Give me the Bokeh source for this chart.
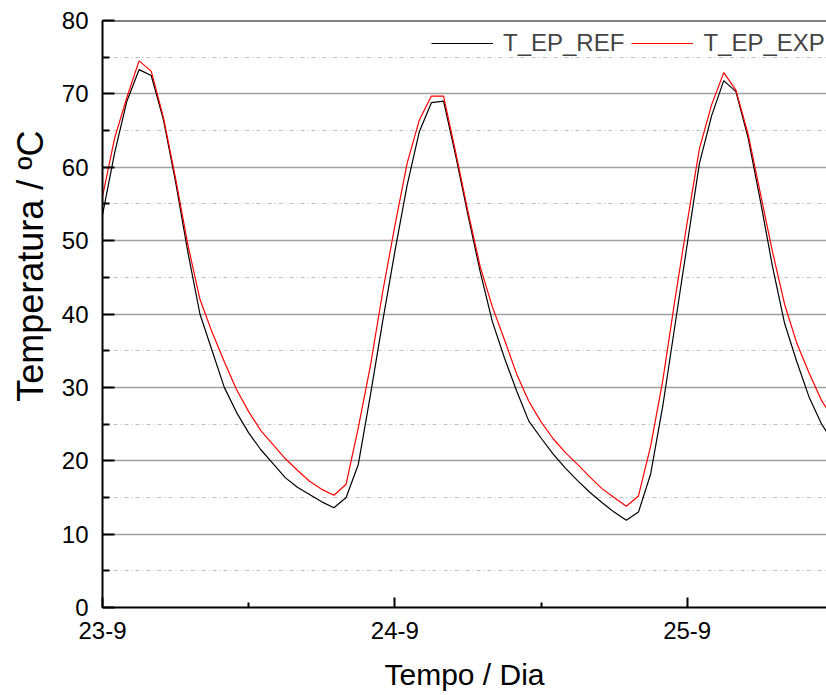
from bokeh.plotting import figure
from bokeh.models import FixedTicker, Span, Legend, LegendItem, Title
from bokeh.embed import file_html
from bokeh.resources import INLINE

# hourly samples starting 23-9 00:00
hours = list(range(61))
t_ep_ref = [53.5, 62, 69, 73.3, 72.5, 66.5, 58, 48.5, 40, 35, 30, 26.6, 23.8, 21.5, 19.6,
            17.7, 16.4, 15.4, 14.4, 13.6, 15, 19.5, 29, 39, 48.5, 57.5, 64.8, 68.8, 69,
            61.5, 53.5, 45.8, 39, 34, 29.5, 25.4, 23.1, 20.9, 19, 17.3, 15.7, 14.3, 13,
            11.9, 13, 18.2, 27.5, 38.5, 49.5, 60.5, 67, 71.8, 70.3, 64, 55.5, 46.5, 38.7,
            33.5, 28.7, 25.1, 22.5]
t_ep_exp = [56, 64, 69.5, 74.5, 73.1, 66.8, 58.5, 49.5, 42, 37.5, 33.5, 29.7, 26.7, 24.1,
            22.2, 20.3, 18.7, 17.2, 16.1, 15.3, 16.8, 24.5, 33, 43, 52, 60.5, 66.4, 69.7,
            69.7, 62, 54, 46.5, 41, 36.5, 31.8, 28.1, 25.3, 23.0, 21.1, 19.5, 17.8, 16.2,
            15, 13.8, 15.2, 22, 31, 42, 52.5, 62.5, 68.5, 72.9, 70.5, 64.5, 56.5, 48.5,
            41.3, 36, 32, 28.3, 25.7]
series_names = ["T_EP_REF", "T_EP_EXP"]
day_ticks = [0, 1, 2]
day_minor = [0.5, 1.5, 2.5]
day_labels = ["23-9", "24-9", "25-9"]
y_ticks = [0, 10, 20, 30, 40, 50, 60, 70, 80]
y_minor = [5, 15, 25, 35, 45, 55, 65, 75]
y_title = "Temperatura / ºC"
x_title = "Tempo / Dia"

days = [h / 24 for h in hours]
FONT = "Liberation Sans"

p = figure(width=826, height=695, x_range=(0, 2.4765), y_range=(0, 80),
           output_backend="svg", toolbar_location=None,
           min_border_left=102, min_border_right=0, min_border_top=20, min_border_bottom=88)
p.outline_line_color = None
p.background_fill_color = "white"
p.xgrid.visible = False
p.ygrid.grid_line_color = "#a0a0a0"
p.ygrid.grid_line_width = 1.5
p.ygrid.minor_grid_line_color = "#c0c0c0"
p.ygrid.minor_grid_line_dash = "4 3 1 3"
p.ygrid.minor_grid_line_width = 1.2

p.yaxis.ticker = FixedTicker(ticks=y_ticks, minor_ticks=y_minor)
p.xaxis.ticker = FixedTicker(ticks=day_ticks, minor_ticks=day_minor)
p.xaxis.major_label_overrides = {t: l for t, l in zip(day_ticks, day_labels)}

for ax in (p.xaxis[0], p.yaxis[0]):
    ax.axis_line_width = 2
    ax.axis_line_color = "black"
    ax.major_tick_line_width = 2
    ax.minor_tick_line_width = 2
    ax.major_tick_line_color = "black"
    ax.minor_tick_line_color = "black"
    ax.major_tick_out = 0
    ax.minor_tick_out = 0
    ax.major_label_text_font = FONT
    ax.major_label_text_font_size = "24px"
    ax.major_label_text_color = "black"
    ax.axis_label_text_font = FONT
    ax.axis_label_text_font_style = "normal"
    ax.axis_label_text_color = "black"

p.yaxis.major_tick_in = 12
p.yaxis.minor_tick_in = 7
p.xaxis.major_tick_in = 10
p.xaxis.minor_tick_in = 5
p.yaxis.major_label_standoff = 14
p.xaxis.major_label_standoff = 14
p.xaxis.axis_label = x_title
p.xaxis.axis_label_text_font_size = "30px"
p.xaxis.axis_label_standoff = 16

# y title as a left-side title, anchored near the top as in the reference
p.add_layout(Title(text=y_title, align="right", offset=110, standoff=15,
                   text_font=FONT, text_font_size="36px", text_font_style="normal",
                   text_color="black"), "left")

p.add_layout(Span(location=80, dimension="width", line_color="black", line_width=2))

r1 = p.line(days, t_ep_ref, line_color="black", line_width=1.2)
r2 = p.line(days, t_ep_exp, line_color="red", line_width=1.2)

legend = Legend(items=[LegendItem(label=series_names[0], renderers=[r1]),
                       LegendItem(label=series_names[1], renderers=[r2])],
                orientation="horizontal", location=(329, 550), padding=0, margin=0,
                spacing=7, glyph_width=62, glyph_height=28, label_height=28,
                label_standoff=10, label_text_font=FONT, label_text_font_size="24px",
                border_line_color=None, background_fill_alpha=0)
p.add_layout(legend)

open("out.html", "w").write(file_html(p, INLINE))
